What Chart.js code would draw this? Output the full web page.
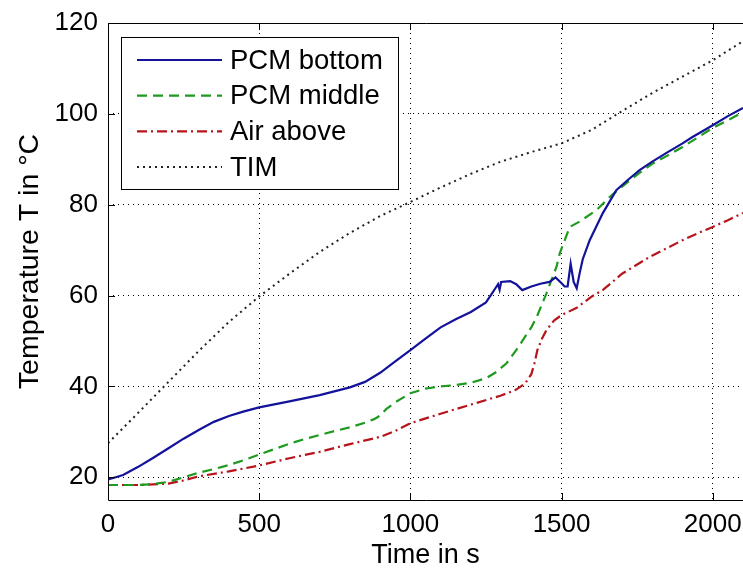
<!DOCTYPE html>
<html>
<head>
<meta charset="utf-8">
<script src="https://cdn.jsdelivr.net/npm/chart.js@4"></script>
<style>
    html, body { margin: 0; padding: 0; background: #fff; }
    #wrap { width: 743px; height: 569px; }
</style>
</head>
<body>
<div id="wrap"><canvas id="tempChart" width="743" height="569"></canvas></div>
<script>
// Values
const seriesNames = ['PCM bottom', 'PCM middle', 'Air above', 'TIM'];

const bottomTime = [0, 50, 100, 150, 200, 250, 300, 350, 400, 450, 500, 600, 700, 800, 850, 900, 950, 1000, 1050, 1100, 1150, 1200, 1250, 1270, 1280, 1290, 1295, 1300, 1330, 1350, 1370, 1400, 1430, 1460, 1480, 1500, 1510, 1520, 1530, 1540, 1550, 1560, 1570, 1593, 1636, 1681, 1720, 1758, 1800, 1847, 1900, 1933, 2000, 2050, 2100];
const bottomTemp = [19.5, 20.5, 22.3, 24.3, 26.4, 28.5, 30.4, 32.2, 33.5, 34.5, 35.4, 36.7, 38.1, 39.8, 41, 43, 45.5, 48, 50.5, 53, 54.8, 56.4, 58.5, 60.5, 61.5, 62.5, 61.3, 63, 63.2, 62.5, 61.2, 62, 62.6, 63, 64, 62.7, 62, 62, 67, 63, 61.6, 65, 68, 72.2, 78.1, 83.2, 85.5, 87.6, 89.5, 91.4, 93.5, 94.9, 97.5, 99.5, 101.3];

const middleTime = [0, 100, 150, 200, 250, 300, 350, 400, 450, 500, 550, 600, 650, 700, 750, 800, 850, 880, 900, 920, 950, 1000, 1050, 1100, 1150, 1200, 1250, 1280, 1318, 1350, 1372, 1400, 1418, 1450, 1483, 1494, 1527, 1560, 1615, 1659, 1700, 1758, 1800, 1850, 1900, 1950, 2000, 2050, 2100];
const middleTemp = [18.3, 18.3, 18.5, 19, 20, 21, 21.8, 22.7, 23.8, 25, 26.2, 27.4, 28.4, 29.3, 30.2, 31, 32, 32.8, 33.6, 35, 36.5, 38.5, 39.5, 40, 40.3, 40.8, 41.8, 43, 45.1, 48, 50.2, 53, 55.3, 60.5, 66.3, 69.3, 75.1, 76.3, 78.8, 81.7, 84, 87, 89, 90.8, 92.7, 94.8, 96.9, 98.6, 100.4];

const airTime = [0, 100, 200, 250, 300, 400, 500, 600, 700, 800, 900, 950, 1000, 1100, 1200, 1300, 1350, 1380, 1400, 1410, 1420, 1435, 1450, 1475, 1500, 1550, 1600, 1636, 1700, 1791, 1850, 1900, 1950, 2000, 2050, 2100];
const airTemp = [18.3, 18.3, 18.6, 19.3, 20.2, 21.3, 22.6, 24.2, 25.6, 27.3, 28.9, 30.2, 31.9, 34, 36, 38, 39.3, 40.7, 42.7, 45, 48, 50.5, 52.4, 54.5, 55.7, 57.3, 59.8, 61.2, 64.8, 68.5, 70.5, 72.2, 73.7, 75.1, 76.6, 78.2];

const timTime = [0, 100, 200, 300, 400, 500, 600, 700, 800, 900, 1000, 1100, 1200, 1300, 1400, 1500, 1600, 1700, 1800, 1900, 2000, 2100];
const timTemp = [27.5, 34.2, 41, 47.8, 54.2, 59.8, 64.8, 69.6, 73.8, 77.5, 80.6, 83.8, 86.8, 89.5, 91.6, 93.5, 96.5, 100.6, 104.6, 108.2, 111.8, 116];

const xTicks = [0, 500, 1000, 1500, 2000];
const yTicks = [20, 40, 60, 80, 100, 120];

const FONT = '"Liberation Sans", Arial, sans-serif';

function toPoints(xs, ys) {
    return xs.map((x, i) => ({x: x, y: ys[i]}));
}

// MATLAB-like box with inward ticks (right side is cut off in the picture)
const framePlugin = {
    id: 'frame',
    afterDraw(chart) {
        const ctx = chart.ctx;
        const a = chart.chartArea;
        const xs = chart.scales.x, ys = chart.scales.y;
        ctx.save();
        ctx.strokeStyle = '#000';
        ctx.lineWidth = 1;
        ctx.setLineDash([]);
        ctx.beginPath();
        ctx.moveTo(a.right + 1, a.top + 0.5);
        ctx.lineTo(a.left + 0.5, a.top + 0.5);
        ctx.lineTo(a.left + 0.5, a.bottom + 0.5);
        ctx.lineTo(a.right + 1, a.bottom + 0.5);
        xTicks.forEach(v => {
            const px = Math.round(xs.getPixelForValue(v)) + 0.5;
            ctx.moveTo(px, a.bottom); ctx.lineTo(px, a.bottom - 7);
            ctx.moveTo(px, a.top); ctx.lineTo(px, a.top + 7);
        });
        yTicks.forEach(v => {
            const py = Math.round(ys.getPixelForValue(v)) + 0.5;
            ctx.moveTo(a.left, py); ctx.lineTo(a.left + 7, py);
        });
        ctx.stroke();
        ctx.restore();
    }
};

// legend box drawn in the top left corner
const legendPlugin = {
    id: 'boxLegend',
    afterDraw(chart) {
        const ctx = chart.ctx;
        const bx = 121, by = 37, bw = 277, bh = 152;
        ctx.save();
        ctx.fillStyle = '#fff';
        ctx.fillRect(bx, by, bw, bh);
        ctx.strokeStyle = '#000';
        ctx.lineWidth = 1;
        ctx.setLineDash([]);
        ctx.strokeRect(bx + 0.5, by + 0.5, bw, bh);
        ctx.font = '27.5px ' + FONT;
        ctx.textBaseline = 'middle';
        chart.data.datasets.forEach((ds, i) => {
            const y = 60 + i * 35.7;
            ctx.beginPath();
            ctx.strokeStyle = ds.borderColor;
            ctx.lineWidth = ds.borderWidth;
            ctx.setLineDash(ds.borderDash || []);
            ctx.moveTo(137, y);
            ctx.lineTo(222, y);
            ctx.stroke();
            ctx.fillStyle = '#000';
            ctx.fillText(ds.label, 230, y + 1);
        });
        ctx.restore();
    }
};

const ctx = document.getElementById('tempChart').getContext('2d');
const tempChart = new Chart(ctx, {
    type: 'line',
    data: {
        datasets: [
            {label: seriesNames[0], data: toPoints(bottomTime, bottomTemp), borderColor: '#12129a', borderWidth: 2.2, borderDash: []},
            {label: seriesNames[1], data: toPoints(middleTime, middleTemp), borderColor: '#1e9a1e', borderWidth: 2.2, borderDash: [10, 6]},
            {label: seriesNames[2], data: toPoints(airTime, airTemp), borderColor: '#b8141c', borderWidth: 2.2, borderDash: [10, 4, 2, 4]},
            {label: seriesNames[3], data: toPoints(timTime, timTemp), borderColor: '#222', borderWidth: 2, borderDash: [2, 4]}
        ]
    },
    options: {
        responsive: false,
        animation: false,
        elements: {
            point: {radius: 0},
            line: {tension: 0, fill: false}
        },
        layout: {padding: {top: 23, right: 0, left: 0, bottom: 0}},
        plugins: {
            legend: {display: false},
            tooltip: {enabled: false}
        },
        scales: {
            x: {
                type: 'linear',
                min: 0,
                max: 2100,
                afterBuildTicks: s => { s.ticks = xTicks.map(v => ({value: v})); },
                afterFit: s => { s.height = 69; s.paddingRight = 0; s.paddingLeft = 0; },
                grid: {color: '#000', lineWidth: 1, drawTicks: false},
                border: {display: false, dash: [1, 4]},
                ticks: {color: '#000', padding: 9, maxRotation: 0, font: {family: FONT, size: 26}, callback: v => String(v)},
                title: {display: true, text: 'Time in s', color: '#000', padding: 0, font: {family: FONT, size: 27, lineHeight: 1}}
            },
            y: {
                min: 15,
                max: 120,
                afterBuildTicks: s => { s.ticks = yTicks.map(v => ({value: v})); },
                afterFit: s => { s.width = 108; s.paddingTop = 0; s.paddingBottom = 0; },
                grid: {color: '#000', lineWidth: 1, drawTicks: false},
                border: {display: false, dash: [1, 4]},
                ticks: {color: '#000', padding: 10, font: {family: FONT, size: 26}, callback: v => String(v)},
                title: {display: true, text: 'Temperature T in °C', color: '#000', padding: {top: 16, bottom: 0}, font: {family: FONT, size: 28.5, lineHeight: 1}}
            }
        }
    },
    plugins: [framePlugin, legendPlugin]
});
</script>
</body>
</html>
